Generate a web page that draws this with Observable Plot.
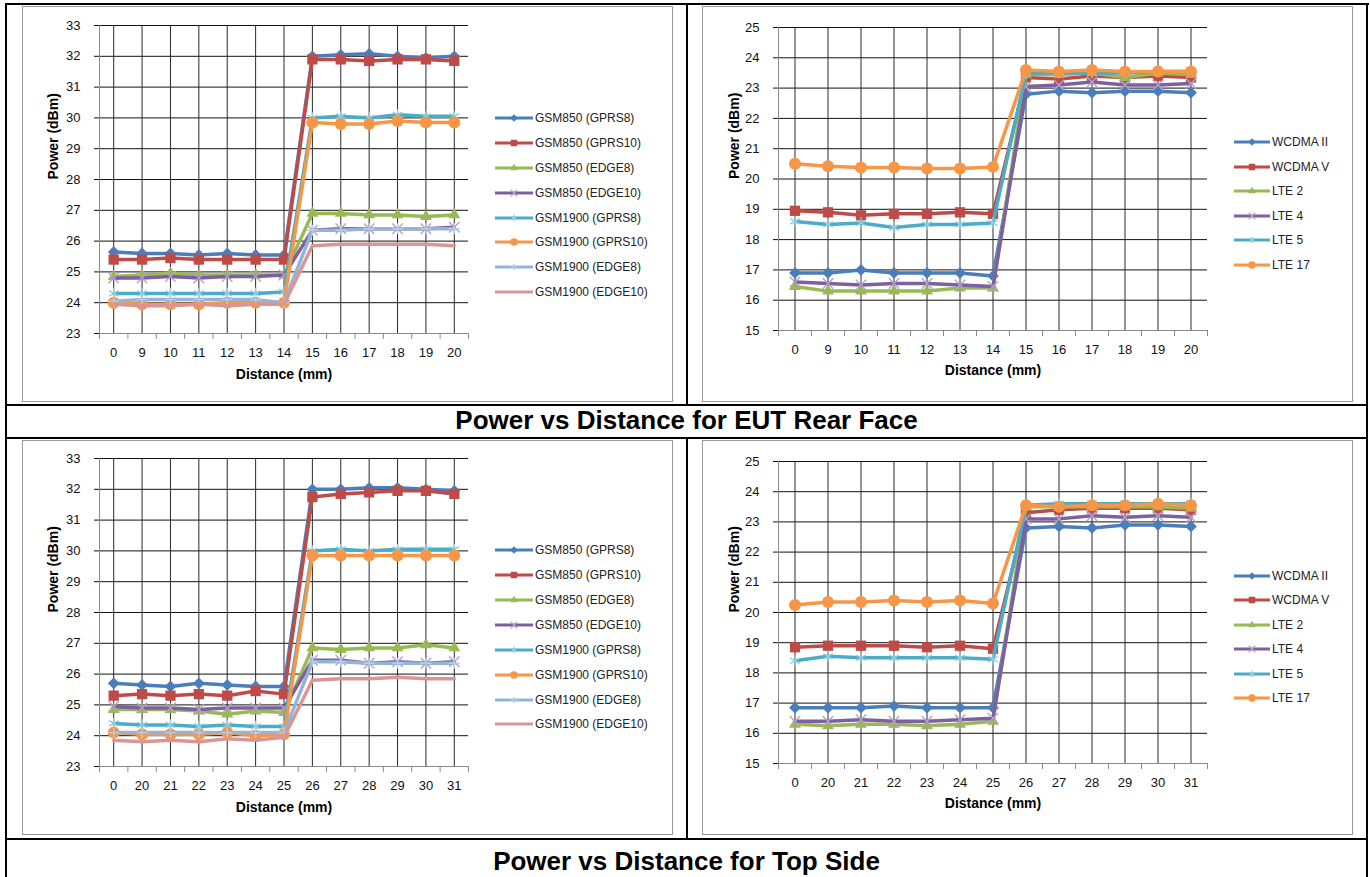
<!DOCTYPE html>
<html><head><meta charset="utf-8">
<script src="https://cdn.jsdelivr.net/npm/d3@7"></script>
<script src="https://cdn.jsdelivr.net/npm/@observablehq/plot@0.6"></script>
<style>
body{margin:0;background:#fff;font-family:"Liberation Sans",Arial,sans-serif;}
#page{position:relative;width:1370px;height:877px;overflow:hidden;background:#fff;}
.b{position:absolute;background:#000;}
.frame{position:absolute;border:1px solid #9a9a9a;box-sizing:border-box;}
.title{position:absolute;left:7px;width:1359px;height:30px;line-height:30px;text-align:center;font-weight:bold;font-size:26px;color:#000;}
.legend{position:absolute;font-size:12px;color:#222;white-space:nowrap;}
.legend span{margin-left:2px;}
</style></head><body><div id="page"></div>
<script>
// ---------- categories ----------
const rearDistances = ["0","9","10","11","12","13","14","15","16","17","18","19","20"];
const topDistances  = ["0","20","21","22","23","24","25","26","27","28","29","30","31"];
const gsmNames = ["GSM850 (GPRS8)","GSM850 (GPRS10)","GSM850 (EDGE8)","GSM850 (EDGE10)","GSM1900 (GPRS8)","GSM1900 (GPRS10)","GSM1900 (EDGE8)","GSM1900 (EDGE10)"];
const lteNames = ["WCDMA II","WCDMA V","LTE 2","LTE 4","LTE 5","LTE 17"];
const gsmTicks = [23,24,25,26,27,28,29,30,31,32,33];
const lteTicks = [15,16,17,18,19,20,21,22,23,24,25];
const titles = ["Power vs Distance for EUT Rear Face","Power vs Distance for Top Side"];
const xLabel = "Distance (mm)";
const yLabel = "Power (dBm)";

// ---------- EUT rear face, GSM ----------
const rearGsm850Gprs8   = [25.65,25.6,25.6,25.55,25.6,25.55,25.55,32.0,32.05,32.08,32.0,31.95,32.0];
const rearGsm850Gprs10  = [25.4,25.4,25.45,25.4,25.4,25.4,25.4,31.9,31.9,31.85,31.9,31.9,31.85];
const rearGsm850Edge8   = [24.85,24.9,24.95,24.9,24.9,24.9,24.9,26.9,26.9,26.85,26.85,26.8,26.85];
const rearGsm850Edge10  = [24.8,24.8,24.85,24.8,24.85,24.85,24.9,26.35,26.4,26.4,26.4,26.4,26.45];
const rearGsm1900Gprs8  = [24.3,24.3,24.3,24.3,24.3,24.3,24.35,30.0,30.05,30.0,30.1,30.05,30.05];
const rearGsm1900Gprs10 = [24.0,23.95,23.95,23.95,24.0,24.0,24.0,29.85,29.8,29.8,29.9,29.85,29.85];
const rearGsm1900Edge8  = [24.05,24.1,24.1,24.1,24.1,24.1,24.0,26.35,26.35,26.4,26.4,26.4,26.4];
const rearGsm1900Edge10 = [23.95,23.9,23.9,23.95,23.9,23.95,23.95,25.85,25.9,25.9,25.9,25.9,25.85];

// ---------- EUT rear face, WCDMA / LTE ----------
const rearWcdma2 = [16.9,16.9,17.0,16.9,16.9,16.9,16.8,22.8,22.9,22.85,22.9,22.9,22.85];
const rearWcdma5 = [18.95,18.9,18.8,18.85,18.85,18.9,18.85,23.35,23.3,23.4,23.35,23.4,23.35];
const rearLte2   = [16.45,16.3,16.3,16.3,16.3,16.4,16.4,23.45,23.45,23.5,23.35,23.5,23.45];
const rearLte4   = [16.6,16.55,16.5,16.55,16.55,16.5,16.45,23.05,23.1,23.2,23.1,23.1,23.15];
const rearLte5   = [18.6,18.5,18.55,18.4,18.5,18.5,18.55,23.5,23.5,23.5,23.5,23.55,23.55];
const rearLte17  = [20.5,20.42,20.38,20.38,20.35,20.35,20.4,23.6,23.55,23.6,23.55,23.55,23.55];

// ---------- Top side, GSM ----------
const topGsm850Gprs8   = [25.7,25.65,25.6,25.7,25.65,25.6,25.6,32.0,32.0,32.05,32.05,32.0,31.95];
const topGsm850Gprs10  = [25.3,25.35,25.3,25.35,25.3,25.45,25.35,31.75,31.85,31.9,31.95,31.95,31.85];
const topGsm850Edge8   = [24.85,24.85,24.85,24.8,24.7,24.8,24.75,26.85,26.8,26.85,26.85,26.95,26.85];
const topGsm850Edge10  = [24.95,24.9,24.9,24.85,24.9,24.9,24.9,26.45,26.45,26.35,26.4,26.35,26.4];
const topGsm1900Gprs8  = [24.4,24.35,24.35,24.3,24.35,24.3,24.3,30.0,30.05,30.0,30.05,30.05,30.05];
const topGsm1900Gprs10 = [24.1,24.05,24.05,24.05,24.1,24.0,24.05,29.85,29.85,29.85,29.85,29.85,29.85];
const topGsm1900Edge8  = [24.1,24.1,24.1,24.1,24.1,24.1,24.1,26.4,26.4,26.35,26.35,26.35,26.35];
const topGsm1900Edge10 = [23.85,23.8,23.85,23.8,23.9,23.85,23.95,25.8,25.85,25.85,25.9,25.85,25.85];

// ---------- Top side, WCDMA / LTE ----------
const topWcdma2 = [16.85,16.85,16.85,16.9,16.85,16.85,16.85,22.8,22.85,22.8,22.9,22.9,22.85];
const topWcdma5 = [18.85,18.9,18.9,18.9,18.85,18.9,18.8,23.3,23.4,23.45,23.45,23.45,23.4];
const topLte2   = [16.3,16.25,16.3,16.3,16.25,16.3,16.4,23.5,23.5,23.5,23.5,23.5,23.45];
const topLte4   = [16.4,16.4,16.45,16.4,16.4,16.45,16.5,23.1,23.1,23.2,23.15,23.2,23.15];
const topLte5   = [18.4,18.55,18.5,18.5,18.5,18.5,18.45,23.55,23.6,23.6,23.6,23.6,23.6];
const topLte17  = [20.25,20.35,20.35,20.4,20.35,20.4,20.3,23.55,23.5,23.55,23.55,23.6,23.55];

// ---------- styles ----------
const seriesStyles = [
  {color:"#4A7EBB", symbol:"diamond2", mfill:"#4A7EBB", r:5.3},
  {color:"#BE4B48", symbol:"square",   mfill:"#BE4B48", r:5.8},
  {color:"#98B954", symbol:"triangle", mfill:"#98B954", r:4.4},
  {color:"#7D60A0", symbol:"times",    mstroke:"#B3A2C7", r:4.8},
  {color:"#4BACC6", symbol:"asterisk", mstroke:"#93CDDD", r:5.3},
  {color:"#F79646", symbol:"circle",   mfill:"#F79646", r:6},
  {color:"#95B3D7", symbol:"plus",     mstroke:"#B9CDE5", r:3.6},
  {color:"#D99694", symbol:null}
];
const d3Symbols = {diamond2:d3.symbolDiamond2, square:d3.symbolSquare, triangle:d3.symbolTriangle,
  times:d3.symbolTimes, asterisk:d3.symbolAsterisk, circle:d3.symbolCircle, plus:d3.symbolPlus};

const page = document.getElementById("page");
function box(cls, l, t, w, h) {
  const d = document.createElement("div");
  d.className = cls;
  Object.assign(d.style, {left:l+"px", top:t+"px", width:w+"px", height:h+"px"});
  page.appendChild(d);
  return d;
}

function chart(cats, ticks, series, opts) {
  const idx = cats.map((c, i) => i);
  const bounds = d3.range(cats.length + 1).map(i => i - 0.5);
  const marks = [
    Plot.ruleY(ticks.slice(1), {stroke:"#111", strokeWidth:1}),
    Plot.ruleX(idx, {stroke:"#2a2a2a", strokeWidth:1}),
    Plot.ruleX([bounds[0]], {stroke:"#8a8a8a"}),
    Plot.ruleY([ticks[0]], {stroke:"#8a8a8a"}),
    Plot.axisY(ticks, {tickSize:5, tickPadding:14, stroke:"#111", label:null, tickFormat:d => String(d)}),
    Plot.axisX(bounds, {tickSize:6, stroke:"#8a8a8a", tickFormat:() => "", label:null}),
    Plot.axisX(idx, {tickSize:0, tickPadding:14, tickFormat:i => cats[i], label:null}),
    Plot.text([yLabel], {frameAnchor:"left", rotate:-90, dx:opts.ylabDx, fontWeight:"bold", fontSize:14, fill:"#000"}),
    Plot.text([xLabel], {frameAnchor:"bottom", dy:opts.xlabDy, fontWeight:"bold", fontSize:14, fill:"#000"})
  ];
  series.forEach((vals, s) => {
    const st = seriesStyles[s];
    const data = vals.map((v, i) => ({i, v}));
    marks.push(Plot.line(data, {x:"i", y:"v", stroke:st.color, strokeWidth:3.5, strokeLinejoin:"round"}));
    if (st.symbol) {
      marks.push(Plot.dot(data, {x:"i", y:"v", symbol:st.symbol, r:st.r,
        fill: st.mfill || "none", stroke: st.mstroke || "none", strokeWidth: st.mstroke ? 1.4 : 0}));
    }
  });
  const svg = Plot.plot({
    width: opts.width, height: opts.height,
    marginLeft: opts.ml, marginRight: opts.mr, marginTop: opts.mt, marginBottom: opts.mb,
    x: {type:"linear", domain:[bounds[0], bounds[bounds.length - 1]]},
    y: {type:"linear", domain:[ticks[0], ticks[ticks.length - 1]]},
    style: {fontFamily:'"Liberation Sans", Arial, sans-serif', fontSize:"13px", color:"#111", background:"transparent"},
    marks
  });
  Object.assign(svg.style, {position:"absolute", left:opts.left+"px", top:opts.top+"px", maxWidth:"none"});
  page.appendChild(svg);
}

function legend(names, left, top, step, lineW) {
  const div = document.createElement("div");
  div.className = "legend";
  div.style.left = left + "px"; div.style.top = top + "px";
  names.forEach((n, s) => {
    const st = seriesStyles[s];
    const row = document.createElement("div");
    row.style.cssText = `height:${step}px;display:flex;align-items:center;`;
    const sv = d3.create("svg").attr("width", lineW).attr("height", 12).style("display","block");
    sv.append("line").attr("x1", 0).attr("x2", lineW).attr("y1", 6).attr("y2", 6)
      .attr("stroke", st.color).attr("stroke-width", 3);
    if (st.symbol) {
      const size = Math.PI * st.r * st.r * 0.4;
      sv.append("path").attr("transform", `translate(${lineW/2},6)`)
        .attr("d", d3.symbol(d3Symbols[st.symbol], size)())
        .attr("fill", st.mfill || "none").attr("stroke", st.mstroke || "none").attr("stroke-width", 1.2);
    }
    row.appendChild(sv.node());
    const sp = document.createElement("span"); sp.textContent = n;
    row.appendChild(sp);
    div.appendChild(row);
  });
  page.appendChild(div);
}

// chart frames
box("frame", 22, 6, 651, 396);
box("frame", 702, 6, 651, 396);
box("frame", 22, 440, 651, 395);
box("frame", 702, 440, 651, 395);

// charts
chart(rearDistances, gsmTicks,
  [rearGsm850Gprs8, rearGsm850Gprs10, rearGsm850Edge8, rearGsm850Edge10, rearGsm1900Gprs8, rearGsm1900Gprs10, rearGsm1900Edge8, rearGsm1900Edge10],
  {left:22, top:7, width:470, height:391, ml:77, mr:24, mt:18, mb:65, ylabDx:-46, xlabDy:45});
chart(rearDistances, lteTicks,
  [rearWcdma2, rearWcdma5, rearLte2, rearLte4, rearLte5, rearLte17],
  {left:702, top:7, width:523, height:391, ml:76, mr:18, mt:20, mb:68, ylabDx:-44, xlabDy:44});
chart(topDistances, gsmTicks,
  [topGsm850Gprs8, topGsm850Gprs10, topGsm850Edge8, topGsm850Edge10, topGsm1900Gprs8, topGsm1900Gprs10, topGsm1900Edge8, topGsm1900Edge10],
  {left:22, top:438, width:470, height:396, ml:77, mr:24, mt:20, mb:68, ylabDx:-46, xlabDy:45});
chart(topDistances, lteTicks,
  [topWcdma2, topWcdma5, topLte2, topLte4, topLte5, topLte17],
  {left:702, top:441, width:523, height:393, ml:76, mr:18, mt:20, mb:71, ylabDx:-44, xlabDy:44});

// legends
legend(gsmNames, 495, 105.5, 24.9, 38);
legend(lteNames, 1234, 129.7, 24.6, 36);
legend(gsmNames, 495, 538, 24.86, 38);
legend(lteNames, 1234, 563.8, 24.4, 36);

// table borders
box("b", 5, 3, 1364, 2);
box("b", 5, 3, 2, 874);
box("b", 1366, 3, 2, 874);
box("b", 686, 3, 2, 403);
box("b", 5, 404, 1363, 2);
box("b", 5, 437, 1363, 2);
box("b", 686, 437, 2, 403);
box("b", 5, 838, 1363, 2);

// titles
const t1 = box("title", 7, 405, 1359, 30); t1.textContent = titles[0];
const t2 = box("title", 7, 846, 1359, 30); t2.textContent = titles[1];
</script></body></html>
